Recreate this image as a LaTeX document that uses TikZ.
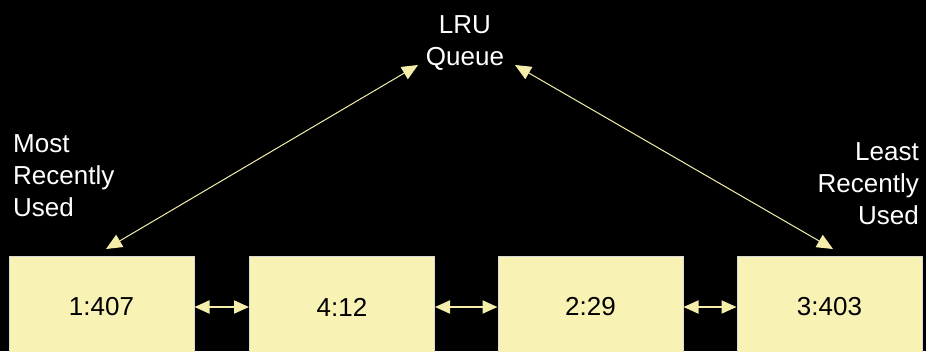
\documentclass[tikz,border=0pt]{standalone}
\usepackage{fontspec}
\setmainfont{Liberation Sans}
\usetikzlibrary{arrows.meta}
\definecolor{boxfill}{RGB}{248,242,180}
\definecolor{arrowcol}{RGB}{245,238,170}
\begin{document}
\begin{tikzpicture}[x=1pt,y=-1pt,
  every node/.style={font=\fontsize{26}{32}\selectfont},
  cell/.style={draw=white!85!black,line width=1pt,fill=boxfill,minimum width=185pt,minimum height=102pt,inner sep=0pt,text=black},
  lbl/.style={text=white,inner sep=0pt},
  link/.style={arrowcol,line width=2pt,{Triangle[length=15pt,width=13pt]}-{Triangle[length=15pt,width=13pt]}},
  diag/.style={arrowcol,line width=1pt,{Triangle[length=16pt,width=14pt]}-{Triangle[length=16pt,width=14pt]}}]
\fill[black] (0,0) rectangle (926,351);
\useasboundingbox (0,0) rectangle (926,351);
\clip (0,0) rectangle (926,351);
\node[cell] (b1) at (101.5,307) {1:407};
\node[cell] (b2) at (342,307) {4:12};
\node[cell] (b3) at (590.5,307) {2:29};
\node[cell] (b4) at (829.5,307) {3:403};
\draw[link] (b1.east) -- (b2.west);
\draw[link] (b2.east) -- (b3.west);
\draw[link] (b3.east) -- (b4.west);
\node[lbl,align=center] (q) at (465,43) {LRU\\Queue};
\node[lbl,align=left,anchor=west] (mru) at (13,175.5) {Most\\Recently\\Used};
\node[lbl,align=right,anchor=east] (lru) at (919,184) {Least\\Recently\\Used};
\coordinate (qa) at (418,65);
\coordinate (qb) at (515,65);
\coordinate (ma) at (106,249);
\coordinate (la) at (833,249);
\draw[diag] (ma) -- (qa);
\draw[diag] (la) -- (qb);
\end{tikzpicture}
\end{document}
